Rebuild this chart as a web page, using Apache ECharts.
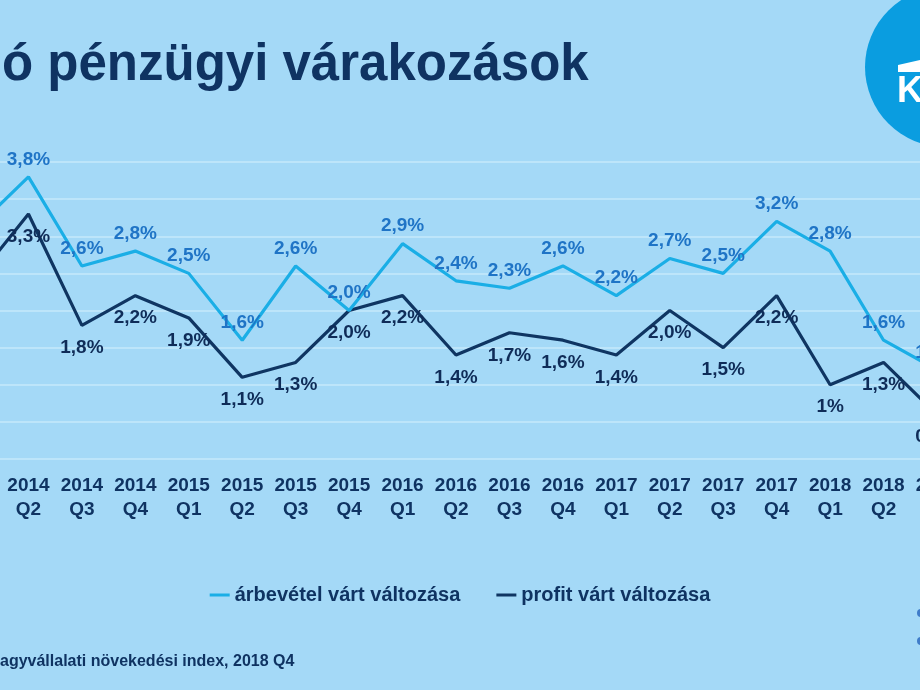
<!DOCTYPE html>
<html>
<head>
<meta charset="utf-8">
<script src="https://cdn.jsdelivr.net/npm/echarts@6/dist/echarts.min.js"></script>
<style>
  html, body { margin: 0; padding: 0; background: #a4d9f7; }
  #chart { width: 920px; height: 690px; }
</style>
</head>
<body>
<div id="chart"></div>
<script>
// negyedévek (az első és az utolsó kilóg a képből)
const quarters = [
  '2014\nQ1', '2014\nQ2', '2014\nQ3', '2014\nQ4',
  '2015\nQ1', '2015\nQ2', '2015\nQ3', '2015\nQ4',
  '2016\nQ1', '2016\nQ2', '2016\nQ3', '2016\nQ4',
  '2017\nQ1', '2017\nQ2', '2017\nQ3', '2017\nQ4',
  '2018\nQ1', '2018\nQ2', '2018\nQ3'
]
const revenue = [3.1, 3.8, 2.6, 2.8, 2.5, 1.6, 2.6, 2.0, 2.9, 2.4, 2.3, 2.6, 2.2, 2.7, 2.5, 3.2, 2.8, 1.6, 1.2]
const profit  = [2.4, 3.3, 1.8, 2.2, 1.9, 1.1, 1.3, 2.0, 2.2, 1.4, 1.7, 1.6, 1.4, 2.0, 1.5, 2.2, 1.0, 1.3, 0.6]
const seriesNames = ['árbevétel várt változása', 'profit várt változása']

const navy = '#0f3362'
const fmt = p => (p.value === 1 ? '1' : p.value.toFixed(1).replace('.', ',')) + '%'

const chart = echarts.init(document.getElementById('chart'))
chart.setOption({
  backgroundColor: '#a4d9f7',
  animation: false,
  textStyle: { fontFamily: 'Liberation Sans, Arial, sans-serif' },
  grid: { left: -25, right: -17, top: 162, bottom: 231, containLabel: false, outerBoundsMode: 'none' },
  legend: {
    data: seriesNames,
    top: 580,
    left: 'center',
    icon: 'rect',
    itemWidth: 20,
    itemHeight: 3,
    itemGap: 36,
    textStyle: { fontSize: 20, fontWeight: 'bold', color: navy }
  },
  xAxis: {
    type: 'category',
    data: quarters,
    boundaryGap: false,
    axisLine: { show: false },
    axisTick: { show: false },
    axisLabel: {
      interval: 0,
      margin: 15,
      fontSize: 19,
      fontWeight: 'bold',
      lineHeight: 24,
      color: navy,
      hideOverlap: false
    }
  },
  yAxis: {
    type: 'value',
    min: 0,
    max: 4,
    interval: 0.5,
    axisLabel: { show: false },
    axisLine: { show: false },
    axisTick: { show: false },
    splitLine: { lineStyle: { color: '#c6e8fb', width: 1.5 } }
  },
  series: [
    {
      name: seriesNames[0],
      type: 'line',
      data: revenue,
      showSymbol: true,
      symbolSize: 0,
      color: '#1aaee6',
      lineStyle: { width: 3.2, color: '#1aaee6' },
      label: {
        show: true, position: 'top', distance: 8,
        fontSize: 19, fontWeight: 'bold', color: '#1f74c6', formatter: fmt
      },
      z: 3
    },
    {
      name: seriesNames[1],
      type: 'line',
      data: profit,
      showSymbol: true,
      symbolSize: 0,
      color: '#0f3562',
      lineStyle: { width: 3.2, color: '#0f3562' },
      label: {
        show: true, position: 'bottom', distance: 13,
        fontSize: 19, fontWeight: 'bold', color: '#0f2c58', formatter: fmt
      },
      z: 2
    }
  ],
  graphic: [
    {
      type: 'text', left: 2, top: 40,
      style: { text: 'ó pénzügyi várakozások', font: 'bold 51px Liberation Sans, Arial', fill: navy }
    },
    {
      type: 'text', left: 0, top: 654,
      style: { text: 'agyvállalati növekedési index, 2018 Q4', font: 'bold 16px Liberation Sans, Arial', fill: navy }
    },
    { type: 'circle', shape: { cx: 945, cy: 67, r: 80 }, style: { fill: '#0a9de0' } },
    { type: 'polygon', shape: { points: [[898, 65], [920, 60], [920, 72], [898, 72]] }, style: { fill: '#ffffff' } },
    {
      type: 'text', x: 897, y: 74,
      style: { text: 'K', font: 'bold 36px Liberation Sans, Arial', fill: '#ffffff' }
    },
    { type: 'circle', shape: { cx: 921, cy: 613, r: 4 }, style: { fill: '#3f7cc9' } },
    { type: 'circle', shape: { cx: 921, cy: 641, r: 4 }, style: { fill: '#3f7cc9' } }
  ]
})
</script>
</body>
</html>
